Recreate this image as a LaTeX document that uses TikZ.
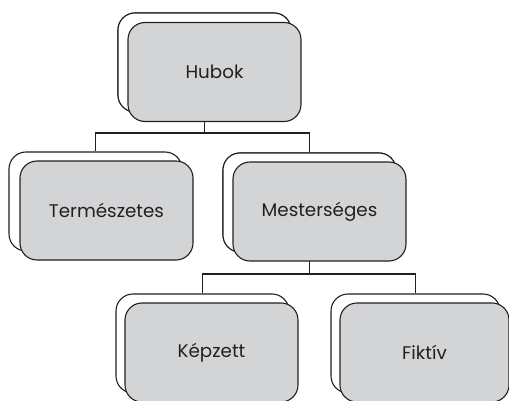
\documentclass[tikz,border=0pt]{standalone}
\usepackage{fontspec}
\setmainfont{Poppins}
\definecolor{boxfill}{HTML}{D3D4D6}
\definecolor{ink}{HTML}{231F20}
\tikzset{
  backbox/.style={draw=ink, line width=1.1pt, fill=white, rounded corners=17pt, minimum width=173pt, minimum height=99pt, inner sep=0pt},
  frontbox/.style={draw=ink, line width=1.1pt, fill=boxfill, rounded corners=17pt, minimum width=173pt, minimum height=99pt, inner sep=0pt, text=ink, font=\fontsize{18.3}{21}\selectfont},
  conn/.style={draw=ink, line width=1.1pt}
}
\begin{document}
\begin{tikzpicture}[x=1pt,y=-1pt]
\useasboundingbox (0,0) rectangle (509,401);
% back boxes
\node[backbox] (hubB) at (204.5,62.5) {};
\node[backbox] (terB) at (95.5,201.5) {};
\node[backbox] (mesB) at (309.5,202.5) {};
\node[backbox] (kepB) at (202.5,343.5) {};
\node[backbox, minimum width=169pt] (fikB) at (415.5,343.5) {};
% connectors
\coordinate (j1) at (204.5,133);
\coordinate (j2) at (309.5,274);
\draw[conn] (hubB.center) -- (j1);
\draw[conn] (j1) -| (terB.north);
\draw[conn] (j1) -| (mesB.north);
\draw[conn] (mesB.center) -- (j2);
\draw[conn] (j2) -| (kepB.north);
\draw[conn] (j2) -| (fikB.north);
% redraw back boxes over connector stubs
\node[backbox] at (hubB) {};
\node[backbox] at (mesB) {};
% front boxes
\node[frontbox] (hubF) at (214.5,72) {Hubok};
\node[frontbox] (terF) at (106.5,210.5) {Természetes};
\node[frontbox] (mesF) at (319.5,211.5) {Mesterséges};
\node[frontbox] (kepF) at (211.5,352.5) {Képzett};
\node[frontbox, minimum width=169pt] (fikF) at (424.5,352.5) {Fiktív};
\end{tikzpicture}
\end{document}
